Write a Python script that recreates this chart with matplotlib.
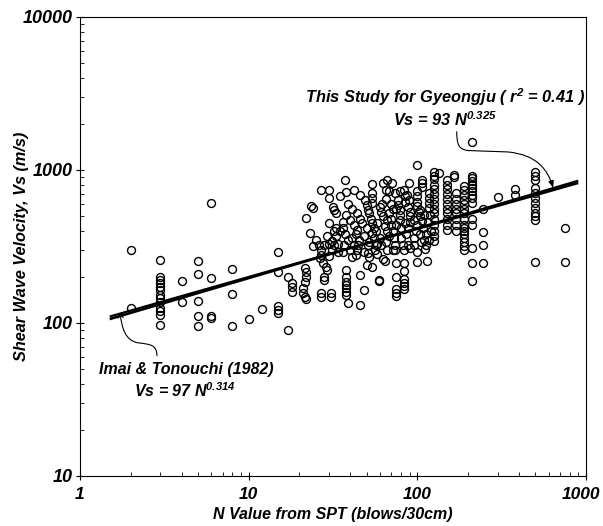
import matplotlib
matplotlib.use("Agg")
import matplotlib.pyplot as plt
import matplotlib.transforms as mtransforms
import numpy as np
from matplotlib.ticker import LogLocator, NullFormatter, FixedLocator
from matplotlib.path import Path
from matplotlib.patches import FancyArrowPatch

# ---------------- data (N value, Vs in m/s) ----------------
n_low = [2, 2,
         3, 3, 3, 3, 3, 3, 3, 3, 3, 3, 3, 3, 3,
         4, 4,
         5, 5, 5, 5, 5,
         6, 6, 6, 6,
         8, 8, 8,
         10, 12,
         15, 15, 15, 15, 15,
         17, 17,
         18, 18, 18]
vs_low = [300, 125,
          258, 201, 191, 182, 173, 164, 152, 146, 138, 125, 119, 113, 97,
          189, 138,
          256, 208, 139, 111, 96,
          612, 196, 111, 108,
          226, 154, 96,
          106, 123,
          293, 215, 129, 122, 116,
          201, 90,
          183, 171, 160]

n_b = [21.5, 22, 22, 21.5, 21, 21, 21.5, 22, 22, 23.5, 24, 23, 24,
       26.5, 27.5, 28.7, 29, 28, 28, 27, 30, 27, 27, 30.6, 30.6,
       27, 30, 30, 31.5, 32, 33, 26, 28, 30, 32, 34,
       25, 29, 31, 33, 33, 27, 31, 34, 30, 32]
vs_b = [228, 215, 200, 186, 169, 157, 147, 143, 483, 585, 565, 390, 320,
        265, 246, 233, 221, 201, 191, 278, 275, 158, 147, 158, 147,
        735, 735, 660, 575, 549, 522, 325, 322, 330, 325, 330,
        350, 370, 345, 420, 370, 300, 300, 290, 450, 400]

n_c = [37, 38, 42, 46, 35, 38, 40, 42, 44, 36.5, 42, 44.5, 43, 48, 38, 45.6,
       38, 38, 38, 38, 38, 38, 39, 48, 45.6,
       36, 37, 39, 41, 43, 40, 36, 41, 45, 44, 39, 41, 44, 46, 36, 35,
       54, 54, 54, 54, 49, 50, 51, 60, 61, 63,
       51, 57, 51, 58, 50, 54, 59.5, 59.5,
       52, 53, 54, 55, 54, 55, 52, 56, 58, 57, 50, 48, 47, 60, 58, 52]
vs_c = [863, 713, 735, 690, 671, 510, 470, 438, 406, 322, 322, 322, 278, 293, 221, 206,
        201, 186, 177, 169, 160, 152, 136, 165, 131,
        420, 380, 350, 360, 380, 300, 290, 270, 350, 300, 600, 560, 520, 480, 460, 400,
        810, 706, 656, 607, 638, 590, 549, 575, 535, 497,
        322, 322, 286, 282, 240, 232, 191, 187,
        520, 480, 450, 420, 390, 360, 340, 300, 450, 400, 420, 370, 450, 360, 330, 270]

n_d = [63, 66, 71, 89, 65, 68, 74, 79, 83, 87,
       77, 77, 79, 79, 79, 85, 88, 90, 90,
       61, 74, 82, 88, 74, 83, 90, 63, 64.5, 75, 83, 83,
       75, 83, 83, 83, 83, 75, 75, 75,
       65, 70, 72, 68, 66, 64, 66, 70, 72, 68, 65, 73, 75, 80, 85, 88, 86, 80, 90, 72,
       66, 70, 62, 75, 84, 89,
       99, 106, 106, 106, 99, 99, 99, 117, 117, 117, 117,
       104, 109, 106, 119, 95, 113, 99, 111, 99, 114,
       100, 102, 104, 100, 98, 103, 108, 112, 110, 115, 120, 95, 96, 105, 118]
vs_d = [827, 860, 820, 827, 742, 728, 706, 728, 742, 690,
        638, 592, 549, 509, 472, 620, 575, 535, 497,
        322, 322, 322, 322, 300, 300, 308, 263, 254, 246, 246, 218,
        200, 193, 183, 175, 167, 167, 158, 151,
        650, 600, 560, 520, 470, 430, 400, 440, 400, 370, 340, 360, 440, 420, 450, 420, 380, 360, 460, 300,
        300, 480, 600, 560, 680, 640,
        1080, 863, 826, 777, 728, 671, 620, 706, 655, 607, 563,
        549, 509, 463, 509, 322, 322, 293, 305, 251, 255,
        580, 530, 500, 440, 400, 380, 420, 380, 350, 460, 400, 470, 360, 340, 350]

n_e = [126, 126, 126, 126, 126, 126, 126, 126, 126, 126, 126, 126, 126, 126, 126,
       134,
       150, 150, 150, 150, 150, 150, 150, 150, 150, 150, 150,
       166, 166,
       170, 170, 170, 170, 170, 170, 170, 170,
       188, 188, 188, 188, 188, 188, 188, 188, 188, 188, 188, 188, 188, 188, 188, 188,
       210, 210, 210, 210, 210, 210, 210, 210, 210, 210, 210, 210, 210, 210, 210,
       245, 245, 245, 245,
       302, 380, 380,
       500, 500, 500, 500, 500, 500, 500, 500, 500, 500, 500, 500,
       750, 750]
vs_e = [977, 916, 870, 800, 750, 700, 650, 600, 560, 520, 480, 440, 400, 370, 345,
        955,
        863, 800, 750, 700, 650, 600, 560, 520, 480, 440, 406,
        930, 905,
        710, 650, 600, 560, 520, 480, 440, 400,
        780, 740, 690, 640, 600, 560, 520, 480, 440, 420, 400, 380, 360, 340, 320, 300,
        1530, 920, 880, 845, 800, 765, 728, 688, 655, 607, 480, 440, 308, 246, 188,
        555, 396, 324, 246,
        670, 750, 690,
        977, 916, 863, 762, 707, 655, 607, 563, 522, 497, 472, 252,
        419, 251]

# regression relations Vs = a * N^b
study_coef, study_exp = 93, 0.325
imai_coef, imai_exp = 97, 0.314
fit_range = [1.5, 900]

x_ticks = [1, 10, 100, 1000]
x_tick_labels = ["1", "10", "100", "1000"]
y_ticks = [10, 100, 1000, 10000]
y_tick_labels = ["10", "100", "1000", "10000"]

# ---------------- style ----------------
FONT = "Liberation Sans"
plt.rcParams["font.family"] = [FONT, "DejaVu Sans"]
plt.rcParams["mathtext.fontset"] = "custom"
plt.rcParams["mathtext.rm"] = FONT + ":italic:bold"
plt.rcParams["mathtext.it"] = FONT + ":italic:bold"
plt.rcParams["mathtext.bf"] = FONT + ":italic:bold"
tfont = dict(family=FONT, weight="bold", style="italic")

fig = plt.figure(figsize=(6.03, 5.26), dpi=100)
ax = fig.add_axes([0.1327, 0.0951, 0.8391, 0.8726])
ax.set_xscale("log")
ax.set_yscale("log")
ax.set_xlim(1, 1000)
ax.set_ylim(10, 10000)

n_all = n_low + n_b + n_c + n_d + n_e
vs_all = vs_low + vs_b + vs_c + vs_d + vs_e
ax.plot(n_all, vs_all, linestyle="none", marker="o", markerfacecolor="none",
        markeredgecolor="black", markersize=5.7, markeredgewidth=1.0)

fn = np.geomspace(fit_range[0], fit_range[1], 200)
ax.plot(fn, study_coef * fn ** study_exp, color="black", lw=1.9, solid_capstyle="butt")
ax.plot(fn, imai_coef * fn ** imai_exp, color="black", lw=1.6, solid_capstyle="butt")

# ticks
ax.xaxis.set_major_locator(FixedLocator(x_ticks))
ax.yaxis.set_major_locator(FixedLocator(y_ticks))
ax.set_xticklabels(x_tick_labels)
ax.set_yticklabels(y_tick_labels)
ax.xaxis.set_minor_locator(LogLocator(base=10, subs=np.arange(2, 10)))
ax.yaxis.set_minor_locator(LogLocator(base=10, subs=np.arange(2, 10)))
ax.xaxis.set_minor_formatter(NullFormatter())
ax.yaxis.set_minor_formatter(NullFormatter())
ax.tick_params(which="major", direction="inout", length=6, width=0.8, top=False, right=False)
ax.tick_params(axis="x", which="major", pad=5)
ax.tick_params(axis="y", which="major", pad=2)
ax.tick_params(which="minor", direction="in", length=3, width=0.6, top=False, right=False)
for lab in ax.get_yticklabels():
    lab.set_fontfamily(FONT)
    lab.set_fontweight("bold")
    lab.set_fontstyle("italic")
    lab.set_fontsize(13)
xlabs = ax.get_xticklabels()
for lab in xlabs:
    lab.set_fontfamily(FONT)
    lab.set_fontweight("bold")
    lab.set_fontstyle("italic")
    lab.set_fontsize(12.5)
# nudge the last x label ("1000") slightly left so it stays inside the figure
shift = mtransforms.ScaledTranslation(-5 / 100, 0, fig.dpi_scale_trans)
xlabs[-1].set_transform(xlabs[-1].get_transform() + shift)

for sp in ax.spines.values():
    sp.set_linewidth(0.8)

ax.set_xlabel("N Value from SPT (blows/30cm)", fontsize=11.5, **tfont)
ax.set_ylabel("Shear Wave Velocity, Vs (m/s)", fontsize=11.7, **tfont)
ax.xaxis.set_label_coords(0.5, -0.085)
ax.xaxis.label.set_verticalalignment("center")
ax.yaxis.set_label_coords(-0.115, 0.5)
ax.yaxis.label.set_verticalalignment("center")

# annotations
ax.text(985, 2990, r"This Study for Gyeongju ( r$^{2}$ = 0.41 )", ha="right", va="center",
        fontsize=11.8, **tfont)
ax.text(147, 2130, r"Vs = 93 N$^{0.325}$", ha="center", va="center", fontsize=11.8, **tfont)
ax.text(4.29, 50, "Imai & Tonouchi (1982)", ha="center", va="center", fontsize=11.5, **tfont)
ax.text(4.2, 35.9, r"Vs = 97 N$^{0.314}$", ha="center", va="center", fontsize=11.5, **tfont)

# curved arrows (axes-fraction coordinates)
p1 = Path([(0.7445, 0.750), (0.745, 0.722), (0.748, 0.711), (0.768, 0.709),
           (0.845, 0.706), (0.905, 0.700), (0.925, 0.665), (0.935, 0.628)],
          [Path.MOVETO, Path.CURVE4, Path.CURVE4, Path.CURVE4,
           Path.LINETO, Path.CURVE4, Path.CURVE4, Path.CURVE4])
a1 = FancyArrowPatch(path=p1, arrowstyle="-|>,head_length=4,head_width=1.6",
                     transform=ax.transAxes, color="black", lw=0.8)
ax.add_patch(a1)
p2 = Path([(0.152, 0.262), (0.152, 0.285), (0.140, 0.287), (0.115, 0.290),
           (0.090, 0.295), (0.083, 0.320), (0.079, 0.356)],
          [Path.MOVETO, Path.CURVE4, Path.CURVE4, Path.CURVE4,
           Path.CURVE4, Path.CURVE4, Path.CURVE4])
a2 = FancyArrowPatch(path=p2, arrowstyle="->,head_length=3,head_width=1.8",
                     transform=ax.transAxes, color="black", lw=0.8)
ax.add_patch(a2)

fig.savefig("out.png", dpi=100)
